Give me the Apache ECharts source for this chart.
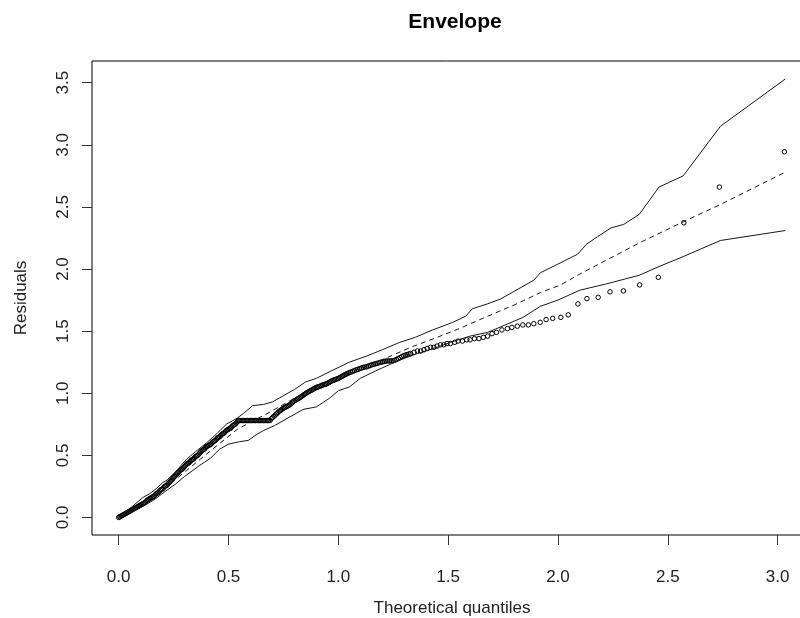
<!DOCTYPE html>
<html><head><meta charset="utf-8">
<script src="https://cdn.jsdelivr.net/npm/echarts@6/dist/echarts.min.js"></script>
<style>html,body{margin:0;padding:0;background:#fff}#c{width:800px;height:618px}</style>
</head><body><div id="c"></div>
<script>
const chartTitle = 'Envelope';
const xName = 'Theoretical quantiles';
const yName = 'Residuals';
const xTicks = [0, 0.5, 1, 1.5, 2, 2.5, 3];
const yTicks = [0, 0.5, 1, 1.5, 2, 2.5, 3, 3.5];

// observed residuals: theoretical quantiles
const obsX = [0,0.005,0.01,0.015,0.02,0.025,0.03,0.035,0.04,0.045,0.05,0.055,0.06,0.065,0.07,0.075,0.08,0.085,0.09,0.095,
  0.10,0.105,0.11,0.115,0.12,0.125,0.13,0.135,0.14,0.145,0.15,0.155,0.16,0.165,0.17,0.175,0.18,0.185,0.19,0.195,
  0.20,0.205,0.21,0.215,0.22,0.225,0.23,0.235,0.24,0.245,0.25,0.255,0.26,0.265,0.27,0.275,0.28,0.285,0.29,0.295,
  0.30,0.305,0.31,0.315,0.32,0.325,0.33,0.335,0.34,0.345,0.35,0.355,0.36,0.365,0.37,0.375,0.38,0.385,0.39,0.395,
  0.40,0.405,0.41,0.415,0.42,0.425,0.43,0.435,0.44,0.445,0.45,0.455,0.46,0.465,0.47,0.475,0.48,0.485,0.49,0.495,
  0.50,0.505,0.51,0.515,0.52,0.525,0.53,0.535,0.54,
  0.545,0.551,0.557,0.563,0.569,0.575,0.581,0.587,0.593,0.599,0.605,0.611,0.617,0.623,0.629,0.635,0.641,0.647,0.653,0.659,0.665,0.671,0.677,0.683,0.689,
  0.695,0.701,0.707,0.713,0.719,0.725,0.731,0.737,0.743,0.749,0.755,0.761,0.767,0.773,0.779,0.785,0.791,0.797,0.803,0.809,
  0.815,0.821,0.827,0.833,0.839,0.845,0.851,0.857,0.863,0.869,0.875,0.881,0.887,0.893,0.899,0.905,0.911,0.917,0.923,0.929,
  0.935,0.941,0.947,0.953,0.959,0.965,0.971,0.977,0.983,0.989,0.995,1.001,1.007,1.013,1.019,1.025,1.031,1.037,1.043,1.049,
  1.057,1.065,1.073,1.081,1.089,1.097,1.105,1.113,1.121,1.129,1.137,1.145,1.153,1.161,1.169,1.177,1.185,1.193,1.201,1.209,
  1.217,1.225,1.233,1.241,1.249,1.257,1.265,1.273,1.281,1.289,1.297,1.305,1.313,1.321,1.329,
  1.345,1.36,1.375,1.39,1.405,1.42,1.435,1.45,1.465,1.48,1.495,
  1.51,1.53,1.545,1.565,1.585,1.60,1.62,1.64,1.66,1.68,1.70,1.72,1.745,1.77,1.79,1.815,1.84,1.865,1.89,
  1.919,1.946,1.976,2.013,2.047,2.091,2.132,2.183,2.237,2.298,2.372,2.457,2.573,2.735,3.031];
// observed residuals: values
const obsY = [0,0.005,0.01,0.015,0.02,0.025,0.03,0.035,0.04,0.045,0.05,0.055,0.06,0.065,0.07,0.075,0.08,0.085,0.09,0.095,
  0.10,0.105,0.11,0.115,0.12,0.13,0.138,0.145,0.15,0.155,0.16,0.165,0.17,0.18,0.19,0.195,0.20,0.21,0.22,0.225,
  0.23,0.24,0.25,0.255,0.26,0.27,0.28,0.29,0.30,0.31,0.32,0.33,0.34,0.35,0.36,0.37,0.38,0.385,0.39,0.40,
  0.41,0.42,0.43,0.435,0.44,0.45,0.46,0.465,0.47,0.48,0.49,0.495,0.50,0.51,0.52,0.53,0.54,0.545,0.55,0.56,
  0.57,0.575,0.58,0.585,0.59,0.60,0.61,0.615,0.62,0.63,0.64,0.645,0.65,0.66,0.67,0.675,0.68,0.69,0.70,0.705,
  0.71,0.715,0.72,0.73,0.74,0.745,0.75,0.76,0.77,
  0.78,0.78,0.78,0.78,0.78,0.78,0.78,0.78,0.78,0.78,0.78,0.78,0.78,0.78,0.78,0.78,0.78,0.78,0.78,0.78,0.78,0.78,0.78,0.78,0.78,
  0.795,0.805,0.815,0.825,0.835,0.845,0.855,0.862,0.87,0.878,0.884,0.89,0.895,0.90,0.908,0.915,0.925,0.935,0.942,0.948,
  0.955,0.96,0.968,0.975,0.982,0.99,0.997,1.005,1.01,1.016,1.022,1.028,1.034,1.04,1.046,1.05,1.052,1.057,1.062,1.066,
  1.07,1.073,1.076,1.082,1.088,1.094,1.10,1.104,1.108,1.112,1.116,1.12,1.126,1.132,1.138,1.144,1.15,1.155,1.16,1.165,
  1.17,1.176,1.182,1.188,1.192,1.198,1.203,1.208,1.211,1.213,1.218,1.224,1.229,1.233,1.237,1.241,1.245,1.249,1.252,1.256,
  1.259,1.26,1.26,1.261,1.262,1.266,1.272,1.28,1.287,1.295,1.302,1.307,1.311,1.316,1.32,
  1.33,1.34,1.34,1.35,1.36,1.37,1.37,1.38,1.39,1.39,1.40,
  1.40,1.41,1.42,1.42,1.43,1.43,1.44,1.44,1.45,1.46,1.48,1.49,1.51,1.52,1.53,1.54,1.55,1.55,1.56,
  1.571,1.593,1.603,1.611,1.631,1.719,1.762,1.772,1.816,1.824,1.872,1.933,2.373,2.660,2.944];

// simulated envelope: upper bound
const upperX = [0,0.05,0.11,0.14,0.17,0.20,0.22,0.26,0.31,0.35,0.40,0.45,0.49,0.52,0.54,0.57,0.61,0.66,0.70,0.75,0.80,0.85,0.90,0.98,1.05,1.13,1.20,1.28,1.35,1.43,1.52,1.58,1.61,1.68,1.74,1.80,1.89,1.92,2.00,2.09,2.13,2.18,2.24,2.30,2.37,2.46,2.57,2.74,3.035];
const upperY = [0,0.07,0.16,0.19,0.23,0.28,0.30,0.37,0.47,0.53,0.60,0.68,0.75,0.78,0.80,0.84,0.90,0.91,0.93,0.98,1.03,1.09,1.12,1.19,1.25,1.30,1.35,1.41,1.45,1.51,1.57,1.62,1.68,1.72,1.76,1.82,1.91,1.97,2.04,2.12,2.20,2.26,2.33,2.36,2.44,2.66,2.75,3.15,3.53];
// simulated envelope: lower bound
const lowerX = [0,0.05,0.10,0.16,0.22,0.26,0.30,0.37,0.42,0.46,0.50,0.55,0.59,0.63,0.66,0.71,0.78,0.84,0.90,0.96,1.00,1.05,1.10,1.17,1.27,1.36,1.45,1.51,1.60,1.68,1.76,1.84,1.92,2.00,2.10,2.22,2.37,2.46,2.57,2.74,3.035];
const lowerY = [0,0.04,0.08,0.14,0.22,0.27,0.33,0.42,0.48,0.55,0.59,0.61,0.62,0.67,0.70,0.74,0.81,0.87,0.89,0.96,1.02,1.05,1.12,1.18,1.26,1.32,1.37,1.41,1.46,1.49,1.55,1.61,1.70,1.75,1.83,1.88,1.95,2.02,2.10,2.23,2.31];
// simulated envelope: median (dashed)
const medX = [0,0.10,0.20,0.31,0.40,0.54,0.68,0.80,0.90,1.00,1.10,1.20,1.33,1.45,1.55,1.68,1.80,1.92,2.01,2.10,2.37,2.57,2.74,3.035];
const medY = [0,0.10,0.22,0.38,0.51,0.71,0.84,0.96,1.05,1.13,1.20,1.27,1.37,1.45,1.52,1.62,1.71,1.81,1.87,1.96,2.21,2.38,2.52,2.78];

const zip = (xs, ys) => xs.map((x, i) => [x, ys[i]]);
const font = 'Liberation Sans, Arial, sans-serif';
const lineCol = '#1a1a1a';

const chart = echarts.init(document.getElementById('c'), null, {renderer: 'canvas'});
chart.setOption({
  animation: false,
  backgroundColor: '#fff',
  title: {
    text: chartTitle, left: 450, top: 7, textAlign: 'center',
    textStyle: {fontFamily: font, fontSize: 21, fontWeight: 'bold', color: '#000'}
  },
  grid: {left: 92, top: 61, width: 720, height: 474, show: true, borderColor: '#000', borderWidth: 1, containLabel: false, outerBoundsMode: 'none'},
  xAxis: {
    type: 'value', min: -0.1214, max: 3.1566,
    name: xName, nameLocation: 'middle', nameGap: 65,
    nameTextStyle: {fontFamily: font, fontSize: 17, color: '#222'},
    axisLine: {show: false, onZero: false},
    axisTick: {show: true, length: 10, customValues: xTicks, lineStyle: {color: '#333'}},
    axisLabel: {customValues: xTicks, margin: 34, fontFamily: font, fontSize: 17, color: '#222', formatter: v => v.toFixed(1)},
    splitLine: {show: false}
  },
  yAxis: {
    type: 'value', min: -0.1414, max: 3.675,
    name: yName, nameLocation: 'middle', nameGap: 62,
    nameTextStyle: {fontFamily: font, fontSize: 17, color: '#222'},
    axisLine: {show: false, onZero: false},
    axisTick: {show: true, length: 10, customValues: yTicks, lineStyle: {color: '#333'}},
    axisLabel: {customValues: yTicks, rotate: 90, margin: 20, fontFamily: font, fontSize: 17, color: '#222', formatter: v => v.toFixed(1)},
    splitLine: {show: false}
  },
  series: [
    {type: 'line', data: zip(upperX, upperY), showSymbol: false, lineStyle: {color: lineCol, width: 1}, silent: true},
    {type: 'line', data: zip(lowerX, lowerY), showSymbol: false, lineStyle: {color: lineCol, width: 1}, silent: true},
    {type: 'line', data: zip(medX, medY), showSymbol: false, lineStyle: {color: lineCol, width: 1, type: [5, 4]}, silent: true},
    {type: 'scatter', data: zip(obsX, obsY), symbol: 'circle', symbolSize: 4.5,
     itemStyle: {color: 'rgba(0,0,0,0)', borderColor: '#000', borderWidth: 1, opacity: 1}, silent: true}
  ]
});
</script>
</body></html>
